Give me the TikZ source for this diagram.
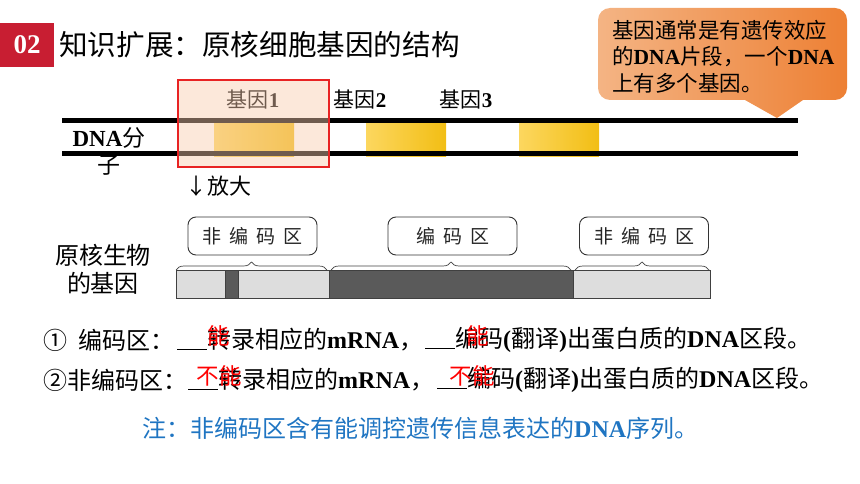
\documentclass[tikz,border=0pt]{standalone}
\usepackage{fontspec}
\setmainfont{Noto Sans CJK SC}
\newfontfamily\tnr{Liberation Serif}
\usetikzlibrary{decorations.pathreplacing}
\newcommand{\lat}[1]{{\tnr\bfseries #1}}
\newcommand{\fs}[1]{\fontsize{#1}{#1}\selectfont}
\newcommand{\blank}{\rule[-1.5pt]{30pt}{0.9pt}}
\definecolor{hdred}{RGB}{200,30,50}
\definecolor{geneA}{RGB}{252,215,95}
\definecolor{geneB}{RGB}{242,190,20}
\definecolor{peach}{RGB}{248,203,173}
\definecolor{zoomred}{RGB}{232,35,35}
\definecolor{callA}{RGB}{244,180,132}
\definecolor{callB}{RGB}{237,128,52}
\definecolor{lightseg}{RGB}{221,221,221}
\definecolor{darkseg}{RGB}{90,90,90}
\definecolor{noteblue}{RGB}{31,117,194}
\tikzset{
  strand/.style={line width=5pt},
  genelbl/.style={inner sep=0,font=\fs{21}},
  calltxt/.style={anchor=west,inner sep=0,font=\fs{21.5}},
  txt/.style={anchor=west,inner sep=0,font=\fs{24}},
  ans/.style={inner sep=0,font=\fs{22.5},text=red},
  regbox/.style={draw=black!80,line width=0.9pt,rounded corners=8pt,minimum width=129pt,minimum height=38pt,inner sep=0,font=\fs{19},text=black!85},
  seg/.style={draw=black!75,line width=0.8pt},
  brc/.style={draw=black!75,line width=0.7pt,decorate,decoration={brace,amplitude=8pt}}
}
\begin{document}
\begin{tikzpicture}[x=1pt,y=-1pt]
\useasboundingbox (0,0) rectangle (860,484);
\fill[hdred] (0,23) rectangle (54,67);
\node[text=white,font=\fs{27}\tnr\bfseries] (num) at (27,45) {02};
\node[anchor=west,inner sep=0,font=\fs{28.6}] (title) at (59,45) {知识扩展：原核细胞基因的结构};
\foreach \x in {214,366,519} \shade[left color=geneA,right color=geneB] (\x,124) rectangle ++(80,33);
\draw[strand] (62,121) -- (798,121);
\draw[strand] (62,154) -- (798,154);
\node[genelbl] (g1) at (253,100) {基因\lat{1}};
\node[genelbl] (g2) at (360,100) {基因\lat{2}};
\node[genelbl] (g3) at (466,100) {基因\lat{3}};
\node[align=center,inner sep=0,font=\fontsize{23}{27}\selectfont] (dna) at (109,151) {\lat{DNA}分\\子};
\filldraw[draw=zoomred,fill=peach,fill opacity=0.45,line width=1.2pt] (178,80) rectangle (329,167);
\node[anchor=west,inner sep=0,font=\fs{22}] (zoom) at (185,186) {↓放大};
\shade[left color=callA,right color=callB] (745,100) [rounded corners=12pt] -- (598,100) -- (598,8) -- (847,8) -- (847,100) [sharp corners] -- (803,100) -- (777,118) -- cycle;
\node[calltxt] (cl1) at (612,30) {基因通常是有遗传效应};
\node[calltxt] (cl2) at (612,57) {的\lat{DNA}片段，一个\lat{DNA}};
\node[calltxt] (cl3) at (612,83) {上有多个基因。};
\node[align=center,inner sep=0,font=\fontsize{24}{28}\selectfont] (pro) at (103,269) {原核生物\\的基因};
\filldraw[seg,fill=lightseg] (176,270) rectangle (225,298);
\filldraw[seg,fill=darkseg] (225,270) rectangle (238,298);
\filldraw[seg,fill=lightseg] (238,270) rectangle (329,298);
\filldraw[seg,fill=darkseg] (329,270) rectangle (573,298);
\filldraw[seg,fill=lightseg] (573,270) rectangle (710,298);
\draw[brc] (176,270) -- (327,270);
\draw[brc] (331,270) -- (571,270);
\draw[brc] (575,270) -- (709,270);
\node[regbox] (nc1) at (252.5,236) {非\hspace{8pt}编\hspace{8pt}码\hspace{8pt}区};
\node[regbox] (cod) at (452.5,236) {编\hspace{8pt}码\hspace{8pt}区};
\node[regbox] (nc2) at (644,236) {非\hspace{8pt}编\hspace{8pt}码\hspace{8pt}区};
\node[txt] (a1) at (43,340) {①\hspace{11pt}编码区：};
\node[txt] (a2) at (177,340) {\blank{}转录相应的\lat{mRNA}，};
\node[txt] (a3) at (425,340) {\blank{}编码\lat{(}翻译\lat{)}出蛋白质的\lat{DNA}区段。};
\node[ans] (r1) at (219,336) {能};
\node[ans] (r2) at (478,336) {能};
\node[txt] (b1) at (43,380) {②非编码区：};
\node[txt] (b2) at (188,380) {\blank{}转录相应的\lat{mRNA}，};
\node[txt] (b3) at (437,380) {\blank{}编码\lat{(}翻译\lat{)}出蛋白质的\lat{DNA}区段。};
\node[ans] (r3) at (219,376) {不能};
\node[ans] (r4) at (472,376) {不能};
\node[anchor=west,inner sep=0,font=\fs{24},text=noteblue] (note) at (142,428) {注：非编码区含有能调控遗传信息表达的\lat{DNA}序列。};
\end{tikzpicture}
\end{document}
